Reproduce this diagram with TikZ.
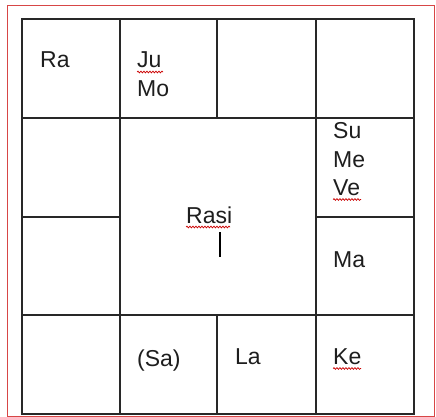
\documentclass[tikz,border=0pt]{standalone}
\usepackage{fontspec}
\setmainfont{Liberation Sans}
\usetikzlibrary{decorations.pathmorphing}
\definecolor{gridc}{RGB}{40,40,40}
\definecolor{framered}{RGB}{215,70,70}
\definecolor{txt}{RGB}{30,30,30}
\begin{document}
\begin{tikzpicture}[x=1pt,y=-1pt,
  gridline/.style={draw=gridc,line width=1.4pt},
  lbl/.style={anchor=base west,inner sep=0pt,text=txt,font=\fontsize{23}{28}\selectfont},
  spell/.style={draw=red!80!black,line width=0.7pt,decorate,decoration={snake,segment length=3pt,amplitude=0.9pt}}]
\useasboundingbox (0,0) rectangle (436,417);
\fill[white] (0,0) rectangle (436,417);
% outer red frame
\draw[framered,line width=1pt] (7,6) rectangle (434,416.5);
% grid
\draw[gridline] (22,19) rectangle (414,414);
\draw[gridline] (120,19) -- (120,414);
\draw[gridline] (316,19) -- (316,414);
\draw[gridline] (217,19) -- (217,118);
\draw[gridline] (217,315) -- (217,414);
\draw[gridline] (22,118) -- (414,118);
\draw[gridline] (22,315) -- (414,315);
\draw[gridline] (22,217) -- (120,217);
\draw[gridline] (316,217) -- (414,217);
% labels
\node[lbl] (ra) at (40,68) {Ra};
\node[lbl] (ju) at (137,68) {Ju};
\node[lbl] (mo) at (137,97) {Mo};
\node[lbl] (su) at (333,139) {Su};
\node[lbl] (me) at (333,167) {Me};
\node[lbl] (ve) at (333,195) {Ve};
\node[lbl] (rasi) at (186,223) {Rasi};
\node[lbl] (ma) at (333,267) {Ma};
\node[lbl] (sa) at (137,366) {(Sa)};
\node[lbl] (la) at (235,364) {La};
\node[lbl] (ke) at (333,364) {Ke};
% text cursor
\draw[black,line width=2.8pt] (220,232) -- (220,257);
% spell-check underlines
\draw[spell] (ju.base west) ++(0,4) -- ++(26,0);
\draw[spell] (ve.base west) ++(0,4.5) -- ++(28,0);
\draw[spell] (rasi.base west) ++(0,4) -- ++(44,0);
\draw[spell] (ke.base west) ++(0,4.5) -- ++(28,0);
\end{tikzpicture}
\end{document}
